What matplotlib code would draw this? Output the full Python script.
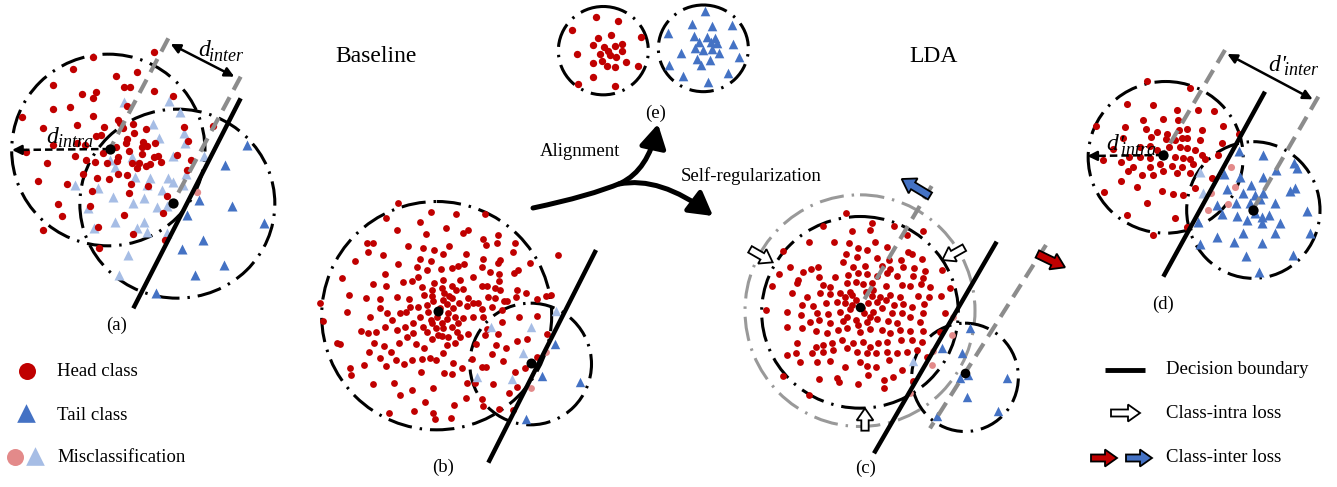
import matplotlib
matplotlib.use('Agg')
import matplotlib.pyplot as plt
from matplotlib.patches import Ellipse, FancyArrow, FancyArrowPatch
from matplotlib.path import Path

plt.rcParams['font.family'] = ['Liberation Serif', 'DejaVu Serif']

# ---------------- data (panel-local coordinates) ----------------
# panel (a)
a_head = [(462,67),(278,80),(218,118),(347,137),(410,126),(158,165),(372,172),(390,170),(462,182),(518,197),
          (245,193),(287,187),(280,203),(158,238),(210,230),(380,228),(67,262),(280,258),(355,270),(360,280),
          (230,285),(128,295),(313,292),(370,295),(400,282),(438,298),(553,290),(640,287),(288,318),(303,315),
          (403,310),(380,327),(428,335),(465,340),(378,340),(160,345),(230,340),(255,345),(348,350),(425,350),
          (440,348),(565,333),(78,365),(225,378),(310,370),(355,382),(388,362),(425,372),(462,380),(475,378),
          (530,375),(140,400),(258,390),(285,397),(322,400),(350,392),(395,398),(418,400),(438,408),(450,402),
          (482,397),(572,390),(250,433),(290,445),(326,448),(355,433),(380,435),(410,415),(560,420),(115,452),
          (200,462),(392,462),(445,467),(277,483),(388,488),(500,497),(173,523),(270,528),(185,557),(373,555),
          (488,550),(130,600),(295,592),(398,612),(495,630),(298,655)]
a_tail_mis = [(372,215),(507,212),(540,245),(458,282),(478,325),(552,310),(555,340),(520,378),(395,380),
              (330,390),(345,410),(612,378),(558,432),(405,440),(450,445),(505,445),(520,455),(225,465),
              (295,475),(440,465),(485,480),(338,500),(400,520),(432,505),(470,530),(265,535),(550,465),
              (502,527),(345,577),(432,575),(283,595),(410,595),(440,605),(500,610),(385,675),(358,735)]
a_tail = [(740,345),(675,405),(598,510),(695,528),(560,555),(793,580),(608,630),(545,658),(672,705),(585,735),(468,790)]
a_head_mis = [(590,487)]
a_centers = [(330,357),(518,520)]

# panel (b)
b_head = [(295,68),(393,95),(468,102),(555,102),(258,115),(360,125),(292,150),(438,143),(378,162),(490,160),
          (505,150),(595,165),(550,178),(200,188),(218,188),(325,197),(368,203),(403,210),(448,198),(430,222),
          (497,222),(558,195),(592,188),(645,190),(640,217),(205,215),(248,225),(165,242),(360,237),(392,243),
          (548,238),(595,248),(600,240),(690,250),(773,226),(295,252),(255,282),(350,262),(382,270),(422,268),
          (455,265),(475,258),(492,252),(545,262),(570,275),(598,282),(642,278),(655,270),(126,295),(218,312),
          (258,318),(310,305),(335,302),(355,290),(402,310),(428,300),(455,318),(480,300),(518,292),(545,318),
          (560,318),(598,303),(585,325),(600,330),(650,330),(677,338),(148,345),(140,395),(198,355),(240,358),
          (292,352),(328,358),(372,345),(395,348),(432,340),(448,348),(468,330),(490,328),(505,355),(535,368),
          (563,352),(585,355),(612,362),(648,350),(710,358),(738,348),(752,345),(60,368),(68,422),(210,410),
          (240,385),(262,398),(300,400),(318,395),(355,382),(380,375),(400,362),(428,360),(440,372),(458,385),
          (478,368),(500,378),(520,370),(545,388),(575,382),(605,390),(620,362),(658,410),(712,408),(182,452),
          (205,458),(228,455),(255,440),(275,420),(290,450),(315,440),(340,430),(370,440),(392,420),(408,445),
          (425,430),(440,418),(455,440),(475,430),(490,415),(518,412),(548,410),(560,448),(595,462),(605,425),
          (110,488),(120,493),(208,515),(222,490),(252,498),(272,515),(298,488),(320,470),(348,492),(372,505),
          (395,478),(425,468),(440,495),(465,490),(480,470),(505,462),(528,492),(555,465),(588,495),(617,505),
          (652,482),(680,478),(742,462),(150,565),(152,585),(192,555),(240,535),(258,558),(288,540),(312,552),
          (335,540),(365,538),(390,535),(408,540),(430,520),(460,548),(485,565),(515,538),(545,560),(575,522),
          (608,542),(645,575),(675,565),(712,532),(220,612),(282,610),(300,645),(335,630),(362,575),
          (398,623),(432,578),(455,582),(502,608),(525,608),(558,562),(580,612),(628,640),(650,622),(268,698),
          (342,693),(375,665),(400,700),(405,718),(452,715),(462,675),(498,655),(545,658),(548,678),(596,686),
          (638,690),(385,395),(420,385),(410,410),(445,400),(395,430),(430,445),(465,410),(360,410),(380,455),
          (415,465),(470,455),(340,460),(445,470),(330,380),(455,355),(395,330),(365,320),(425,325)]
b_tail_mis = [(768,393),(572,440),(693,440),(670,518),(532,592),(637,598)]
b_tail = [(765,492),(725,588),(840,605),(678,718)]
b_head_mis = [(692,625),(738,515)]
b_centers = [(413,392),(692,548)]

# panel (c)
c_head = [(348,158),(278,198),(425,190),(420,210),(493,198),(365,212),(532,225),(580,213),(238,245),(312,245),
          (357,250),(435,245),(470,260),(535,275),(160,272),(385,263),(410,270),(348,283),(380,292),(440,295),
          (478,300),(513,300),(545,282),(575,298),(180,320),(243,328),(265,320),(218,335),(338,307),(368,322),
          (405,318),(455,318),(480,328),(520,322),(553,325),(585,333),(148,343),(205,360),(268,350),(315,350),
          (355,345),(385,340),(412,342),(440,348),(470,340),(500,348),(550,348),(580,355),(635,330),(125,378),
          (200,370),(280,375),(300,382),(350,370),(378,365),(400,372),(425,370),(468,378),(515,375),(540,378),
          (572,372),(600,380),(660,383),(185,400),(230,410),(270,400),(300,403),(330,400),(345,410),(365,405),
          (378,420),(408,395),(425,408),(450,410),(480,405),(510,412),(565,408),(598,412),(632,408),(215,435),
          (250,438),(287,430),(320,425),(345,430),(415,430),(440,425),(468,420),(492,435),(520,432),(545,440),
          (582,432),(108,450),(170,455),(212,465),(260,460),(295,462),(330,455),(360,448),(402,458),(430,455),
          (455,445),(485,460),(515,458),(540,470),(580,460),(645,460),(240,485),(268,480),(300,488),(340,482),
          (378,480),(410,485),(440,478),(475,482),(500,490),(570,485),(170,500),(215,505),(258,512),(290,518),
          (325,510),(350,505),(390,515),(420,508),(455,510),(480,520),(510,510),(540,512),(580,512),(630,515),
          (200,548),(258,560),(280,555),(305,548),(335,540),(370,550),(400,545),(420,560),(445,548),(470,545),
          (512,540),(545,540),(575,545),(170,585),(198,578),(210,605),(245,580),(280,575),(310,570),(350,565),
          (380,575),(410,580),(437,580),(470,575),(500,578),(530,575),(560,570),(590,590),(262,605),(300,602),
          (345,620),(390,605),(410,618),(437,620),(478,600),(515,630),(160,648),(268,658),(320,655),(328,665),
          (385,672),(415,645),(462,660),(488,652),(548,662),(238,706),(462,685),(365,435),(395,445),(350,470),
          (420,470),(385,495),(360,395),(430,390)]
c_tail_mis = [(548,603)]
c_tail = [(720,505),(635,565),(695,580),(690,655),(715,645),(830,655),(710,710),(805,752),(620,768)]
c_head_mis = [(668,472),(665,525),(610,572),(605,615),(540,700)]
c_centers = [(390,440),(705,640)]

# panel (d)
d_head = [(200,122),(330,145),(142,192),(220,195),(292,210),(355,210),(403,213),(188,240),(248,238),(293,240),
          (48,258),(135,260),(197,268),(230,275),(262,282),(298,270),(320,268),(365,270),(430,258),(130,293),
          (213,292),(258,298),(285,300),(305,295),(322,295),(360,300),(425,308),(478,283),(180,320),(210,318),
          (232,330),(268,320),(300,320),(320,325),(345,330),(365,345),(415,345),(100,328),(148,350),(180,350),
          (210,355),(285,352),(310,355),(330,358),(375,358),(70,360),(122,365),(160,380),(210,380),(240,372),
          (275,378),(305,380),(340,372),(145,392),(185,405),(220,405),(250,392),(290,400),(330,398),(395,415),
          (122,422),(170,440),(245,452),(278,462),(308,465),(345,445),(73,457),(200,488),(140,525),(285,535),
          (320,562),(218,585)]
d_tail_mis = [(360,397),(368,460)]
d_tail = [(478,333),(548,345),(642,370),(432,403),(480,410),(548,410),(588,390),(650,385),(513,435),(440,448),
          (490,458),(525,465),(550,460),(630,452),(645,445),(410,495),(468,490),(510,488),(540,478),(585,488),
          (425,522),(470,528),(500,540),(525,520),(545,530),(568,525),(600,548),(545,550),(680,512),(353,545),
          (410,590),(462,605),(490,578),(545,608),(585,578),(690,578),(360,613),(498,647),(640,645),(538,695)]
d_head_mis = [(453,380),(465,442),(443,492),(393,458),(383,510)]
d_centers = [(250,345),(518,510)]

# panel (e)
e_head = [(168,50),(235,63),(95,90),(302,110),(175,115),(212,105),(160,135),(192,140),(225,138),(245,132),
          (205,152),(180,162),(245,152),(110,162),(228,170),(185,182),(258,185),(158,188),(202,198),(225,202),
          (295,198),(158,230),(115,252),(225,258),(210,165)]
e_tail = [(495,32),(455,72),(515,78),(575,75),(383,98),(462,108),(500,112),(525,115),(478,125),(512,125),
          (530,128),(578,132),(422,158),(465,145),(490,150),(515,148),(537,158),(472,178),(510,180),(598,172),
          (388,195),(483,195),(428,228),(565,218),(505,245)]

# text labels
panel_labels = ['(a)', '(b)', '(c)', '(d)', '(e)']
legend_left = ['Head class', 'Tail class', 'Misclassification']
legend_right = ['Decision boundary', 'Class-intra loss', 'Class-inter loss']

# ---------------- styles ----------------
RED = '#C00000'
BLUE = '#4472C4'
LRED = '#E38A8A'
LBLUE = '#A6BDE5'
GRAY = '#8C8C8C'
DASHDOT = (0, (8.0, 2.6, 0.8, 2.6))
GDASH = (0, (3.6, 2.0))

W, H = 1337, 487
fig = plt.figure(figsize=(W/100, H/100), dpi=100)
main = fig.add_axes([0, 0, 1, 1])
main.set_xlim(0, W); main.set_ylim(H, 0); main.axis('off')


def panel(x0, y0, w, h):
    ax = fig.add_axes([x0/W, 1-(y0+h)/H, w/W, h/H])
    ax.set_xlim(0, 3*w); ax.set_ylim(3*h, 0); ax.axis('off')
    return ax


def ell(ax, c, w, h, color='black', lw=2.2):
    ax.add_patch(Ellipse(c, w, h, fill=False, ec=color, lw=lw, ls=DASHDOT, zorder=1, clip_on=False))


def pts(ax, data, color, marker='o', s=20, z=2):
    if not data:
        return
    xs, ys = zip(*data)
    ax.scatter(xs, ys, s=s, c=color, marker=marker, linewidths=0, zorder=z, clip_on=False)


def seg(ax, p, q, **kw):
    ax.plot([p[0], q[0]], [p[1], q[1]], clip_on=False, solid_capstyle='butt', **kw)


def boundary(ax, p, q):
    seg(ax, p, q, color='black', lw=3.2, zorder=4)


def gdash(ax, p, q):
    seg(ax, p, q, color=GRAY, lw=3.0, ls=GDASH, zorder=5, dash_capstyle='butt')


def centers(ax, data, s=55):
    xs, ys = zip(*data)
    ax.scatter(xs, ys, s=s, c='black', zorder=6, linewidths=0, clip_on=False)


def block_arrow(ax, p, q, color, width, hw, hl, lw=1.3):
    ax.add_patch(FancyArrow(p[0], p[1], q[0]-p[0], q[1]-p[1], width=width, head_width=hw, head_length=hl,
                            length_includes_head=True, fc=color, ec='black', lw=lw, zorder=7, clip_on=False,
                            joinstyle='miter'))


def dbl_arrow(ax, p, q):
    ax.add_patch(FancyArrowPatch(p, q, arrowstyle='<|-|>', mutation_scale=14, lw=1.8, color='black',
                                 shrinkA=0, shrinkB=0, zorder=7, clip_on=False))


def dash_arrow(ax, p, q):
    dx, dy = q[0]-p[0], q[1]-p[1]
    m = (q[0]-0.12*dx, q[1]-0.12*dy)
    seg(ax, p, m, color='black', lw=1.8, ls=(0, (3, 1.6)), zorder=7)
    ax.add_patch(FancyArrowPatch(m, q, arrowstyle='-|>', mutation_scale=14, lw=1.8, color='black',
                                 shrinkA=0, shrinkB=0, zorder=7, clip_on=False))


def dlabel(ax, x, y, sub, prime=False):
    kw = dict(family='Liberation Serif', style='italic', va='baseline', ha='left', zorder=8)
    ax.text(x, y, 'd', fontsize=17, **kw)
    off = 33
    if prime:
        ax.text(x + 36, y + 2, "'", fontsize=17, **kw)
        off = 46
    ax.text(x + off, y + 14, sub, fontsize=13, **kw)


# ---------------- panel (a) ----------------
ax = panel(0, 30, 300, 280)
ell(ax, (325, 360), 580, 575)
ell(ax, (532, 521), 585, 567)
pts(ax, a_tail_mis, LBLUE, '^', 52)
pts(ax, a_head, RED, 'o', 28)
pts(ax, a_tail, BLUE, '^', 52)
pts(ax, a_head_mis, LRED, 'o', 28)
boundary(ax, (722, 205), (400, 835))
gdash(ax, (505, 25), (330, 357))
gdash(ax, (722, 140), (518, 520))
centers(ax, a_centers)
dbl_arrow(ax, (512, 42), (703, 140))
dlabel(ax, 595, 78, 'inter')
dash_arrow(ax, (330, 357), (36, 360))
dlabel(ax, 140, 338, 'intra')

# ---------------- panel (b) ----------------
ax = panel(300, 180, 320, 290)
ell(ax, (410, 407), 690, 685)
ell(ax, (692, 552), 365, 365)
pts(ax, b_head, RED, 'o', 24)
pts(ax, b_tail_mis, LBLUE, '^', 46)
pts(ax, b_tail, BLUE, '^', 46)
pts(ax, b_head_mis, LRED, 'o', 24)
boundary(ax, (888, 210), (565, 848))
centers(ax, b_centers, 52)

# ---------------- panel (c) ----------------
ax = panel(730, 160, 350, 310)
ell(ax, (390, 452), 690, 695, color='#999999')
ell(ax, (390, 457), 590, 575)
ell(ax, (705, 652), 320, 325)
pts(ax, c_head, RED, 'o', 24)
pts(ax, c_tail_mis, LBLUE, '^', 46)
pts(ax, c_tail, BLUE, '^', 46)
pts(ax, c_head_mis, LRED, 'o', 24)
boundary(ax, (800, 245), (432, 880))
gdash(ax, (605, 78), (390, 440))
gdash(ax, (948, 255), (600, 805))
centers(ax, c_centers, 48)
block_arrow(ax, (600, 108), (515, 57), BLUE, 24, 52, 40)
block_arrow(ax, (922, 282), (1005, 322), RED, 24, 52, 40)
block_arrow(ax, (60, 268), (128, 307), 'white', 22, 50, 36)
block_arrow(ax, (703, 263), (637, 300), 'white', 22, 50, 36)
block_arrow(ax, (405, 812), (405, 745), 'white', 22, 50, 36)

# ---------------- panel (d) ----------------
ax = panel(1080, 40, 257, 260)
ell(ax, (257, 352), 465, 455)
ell(ax, (520, 510), 400, 410)
pts(ax, d_head, RED, 'o', 26)
pts(ax, d_tail_mis, LBLUE, '^', 52)
pts(ax, d_tail, BLUE, '^', 52)
pts(ax, d_head_mis, LRED, 'o', 26)
boundary(ax, (555, 155), (250, 710))
gdash(ax, (435, 30), (250, 345))
gdash(ax, (715, 170), (518, 510))
centers(ax, d_centers)
dbl_arrow(ax, (442, 42), (698, 178))
dlabel(ax, 566, 92, 'inter', prime=True)
dlabel(ax, 78, 330, 'intra', prime=True)
dash_arrow(ax, (250, 345), (22, 348))

# ---------------- panel (e) ----------------
ax = panel(540, 0, 230, 110)
ell(ax, (190, 152), 270, 265)
ell(ax, (490, 145), 270, 260)
pts(ax, e_head, RED, 'o', 28)
pts(ax, e_tail, BLUE, '^', 48)

# ---------------- main overlay ----------------
FS = 13.5
main.text(335, 56, 'Baseline', fontsize=17, ha='left', va='center')
main.text(909, 56, 'LDA', fontsize=17, ha='left', va='center')
main.text(540, 152, 'Alignment', fontsize=FS, ha='left', va='center')
main.text(681, 176, 'Self-regularization', fontsize=FS, ha='left', va='center')
for lab, (x, y) in zip(panel_labels, [(117, 325), (443, 467), (866, 468), (1163, 304), (656, 113)]):
    main.text(x, y, lab, fontsize=FS, ha='center', va='center')

# curved arrows
p1 = Path([(533, 208), (590, 196), (621, 183), (648, 170), (658, 124)],
          [Path.MOVETO, Path.CURVE3, Path.CURVE3, Path.CURVE3, Path.CURVE3])
main.add_patch(FancyArrowPatch(path=p1, arrowstyle='-|>,head_length=0.7,head_width=0.4', mutation_scale=20,
                               lw=3.6, color='black', shrinkA=0, shrinkB=0))
p2 = Path([(619, 184), (660, 176), (713, 216)], [Path.MOVETO, Path.CURVE3, Path.CURVE3])
main.add_patch(FancyArrowPatch(path=p2, arrowstyle='-|>,head_length=0.7,head_width=0.4', mutation_scale=20,
                               lw=3.6, color='black', shrinkA=0, shrinkB=0))

# left legend
main.scatter([27], [371], s=150, c=RED, linewidths=0)
main.scatter([26], [413], s=180, c=BLUE, marker='^', linewidths=0)
main.scatter([15], [457], s=150, c=LRED, linewidths=0)
main.scatter([35], [456], s=180, c=LBLUE, marker='^', linewidths=0)
for lab, y in zip(legend_left, [371, 415, 458]):
    main.text(57, y, lab, fontsize=FS, ha='left', va='center')

# right legend
main.plot([1105, 1145], [370, 370], color='black', lw=3.5, solid_capstyle='butt')
block_arrow(main, (1111, 413), (1140, 413), 'white', 7, 17, 12, lw=1.3)
block_arrow(main, (1091, 458), (1117, 458), RED, 7, 17, 12, lw=1.3)
block_arrow(main, (1126, 458), (1152, 458), BLUE, 7, 17, 12, lw=1.3)
for lab, y in zip(legend_right, [370, 413, 458]):
    main.text(1166, y, lab, fontsize=FS, ha='left', va='center')

fig.savefig('out.png', dpi=100)
